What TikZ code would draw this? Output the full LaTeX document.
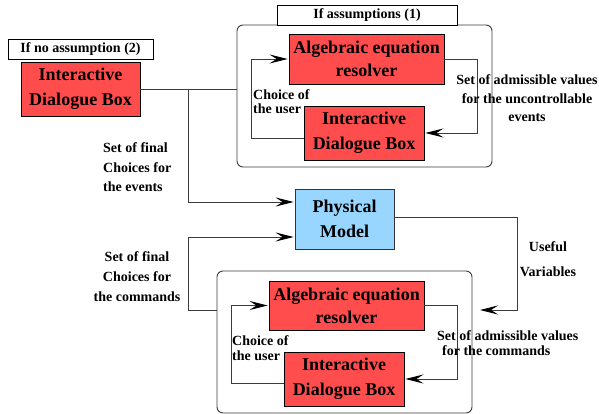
\documentclass[tikz,border=0pt]{standalone}
\usepackage{fontspec}
\setmainfont{Liberation Serif}
\usetikzlibrary{arrows.meta}
\definecolor{boxred}{RGB}{255,77,77}
\definecolor{boxblue}{RGB}{153,214,255}
\definecolor{linegray}{RGB}{60,60,60}
\tikzset{
  redbox/.style={draw=black, fill=boxred, line width=0.9pt, inner sep=0pt, align=center,
    font=\fontsize{18}{25}\selectfont\bfseries},
  bluebox/.style={draw=black!80, fill=boxblue, line width=0.9pt, inner sep=0pt, align=center,
    font=\fontsize{18}{25}\selectfont\bfseries},
  hdrbox/.style={draw=black, fill=white, line width=0.9pt, inner sep=0pt, align=center,
    font=\fontsize{14}{16}\selectfont\bfseries},
  groupbox/.style={draw=linegray, line width=0.9pt, rounded corners=6pt, inner sep=0pt},
  lbl/.style={inner sep=0pt, font=\fontsize{14}{19.5}\selectfont\bfseries},
  conn/.style={draw=linegray, line width=0.9pt},
  arr/.style={conn, -{Stealth[length=18pt,width=9pt,inset=7pt,color=black]}, shorten >=1pt},
}
\begin{document}
\begin{tikzpicture}[x=1pt,y=-1pt]
\useasboundingbox (0,0) rectangle (599,414);
% groups
\node[groupbox, minimum width=255pt, minimum height=142pt] (outer1) at (364.5,96) {};
\node[groupbox, minimum width=255pt, minimum height=142pt] (outer2) at (344.5,342) {};
% headers
\node[hdrbox, minimum width=145pt, minimum height=20pt] (hdr2) at (80.5,49) {If no assumption (2)};
\node[hdrbox, minimum width=180pt, minimum height=20pt] (hdr1) at (367,15) {If assumptions (1)};
% boxes
\node[redbox, minimum width=119pt, minimum height=54pt] (idb1) at (80.5,89) {Interactive\\Dialogue Box};
\node[redbox, minimum width=155pt, minimum height=50pt, font=\fontsize{18}{23}\selectfont\bfseries] (aer1) at (366.5,59) {Algebraic equation\\resolver};
\node[redbox, minimum width=120pt, minimum height=54pt] (idb2) at (364,133) {Interactive\\Dialogue Box};
\node[bluebox, minimum width=99pt, minimum height=60pt] (phys) at (344.5,219) {Physical\\Model};
\node[redbox, minimum width=155pt, minimum height=49pt, font=\fontsize{18}{23}\selectfont\bfseries] (aer2) at (346.5,305.5) {Algebraic equation\\resolver};
\node[redbox, minimum width=120pt, minimum height=54pt] (idb3) at (344,379) {Interactive\\Dialogue Box};
\coordinate (jn1) at (188,89);
\coordinate (vin) at (479,310);
% connectors top
\draw[conn] (idb1.east) -- (idb1.east -| outer1.west);
\draw[arr] (jn1) |- ([yshift=17pt]phys.west);
\draw[arr] ([yshift=-5pt]idb2.west) -- ++(-52,0) |- (aer1.west);
\draw[arr] (aer1.east) -- ++(33,0) |- (idb2.east);
% connectors bottom
\draw[arr] (outer2.west |- vin) -- (188,310) |- ([yshift=-18pt]phys.west);
\draw[arr] ([yshift=-4pt]idb3.west) -- ++(-52,0) |- (aer2.west);
\draw[arr] (aer2.east) -- ++(33,0) |- (idb3.east);
\draw[arr] ([yshift=2pt]phys.east) -- (517,217) |- (vin);
% labels
\node[lbl, align=left, anchor=west, font=\fontsize{14}{14.5}\selectfont\bfseries] (cu1) at (253,101.5) {Choice of\\the user};
\node[lbl, align=left, anchor=west, font=\fontsize{14}{15}\selectfont\bfseries] (cu2) at (232,348.5) {Choice of\\the user};
\node[lbl, align=center, font=\fontsize{14}{18.5}\selectfont\bfseries] (adm1) at (527,98.5) {Set of admissible values\\for the uncontrollable\\events};
\node[lbl, align=left, anchor=west] (sf1) at (103,167.5) {Set of final\\Choices for\\the events};
\node[lbl, align=center, font=\fontsize{14}{20}\selectfont\bfseries] (sf2) at (137,277) {Set of final\\Choices for\\the commands};
\node[lbl, align=center, font=\fontsize{14}{25}\selectfont\bfseries] (uv) at (548,259.5) {Useful\\Variables};
\node[lbl, align=left, anchor=west, font=\fontsize{14}{15}\selectfont\bfseries] (adm2) at (437,343.5) {Set of admissible values\\\hspace*{5pt}for the commands};
\end{tikzpicture}
\end{document}
